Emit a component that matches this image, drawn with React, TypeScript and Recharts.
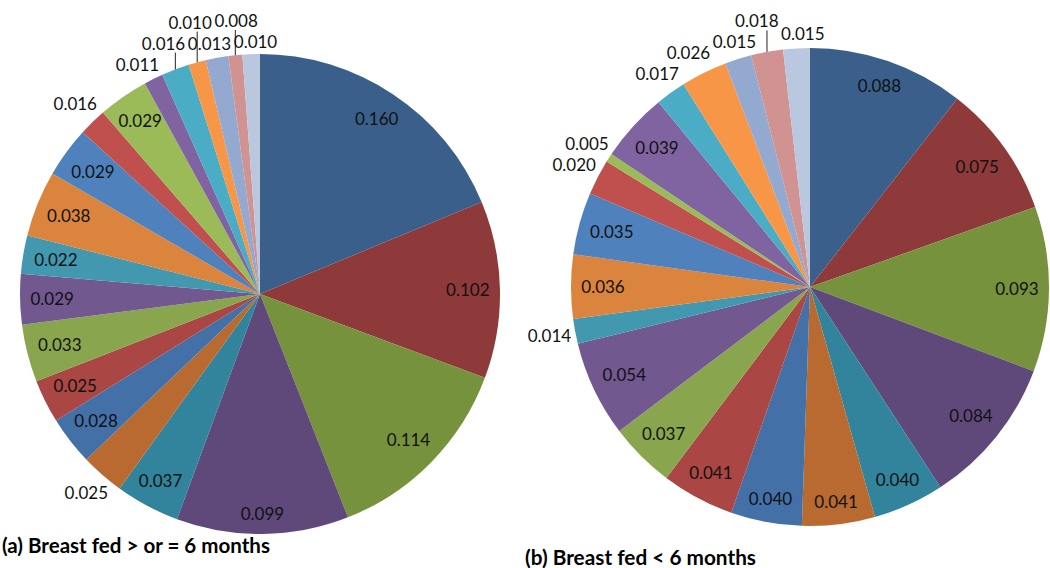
import React from "react";
import { PieChart, Pie, Cell } from "recharts";

const groups = [
  "G1", "G2", "G3", "G4", "G5", "G6", "G7", "G8", "G9", "G10", "G11",
  "G12", "G13", "G14", "G15", "G16", "G17", "G18", "G19", "G20", "G21",
];

// (a) breast fed >= 6 months
const valuesA = [
  0.160, 0.102, 0.114, 0.099, 0.037, 0.025, 0.028, 0.025, 0.033, 0.029, 0.022,
  0.038, 0.029, 0.016, 0.029, 0.011, 0.016, 0.010, 0.013, 0.008, 0.010,
];

// (b) breast fed < 6 months
const valuesB = [
  0.088, 0.075, 0.093, 0.084, 0.040, 0.041, 0.040, 0.041, 0.037, 0.054, 0.014,
  0.036, 0.035, 0.020, 0.005, 0.039, 0.017, 0.026, 0.015, 0.018, 0.015,
];

const titles = ["(a) Breast fed > or = 6 months", "(b) Breast fed < 6 months"];

const colors = [
  "#3a5f8b", "#8e3a3a", "#76923c", "#5f497a", "#31849b", "#b86a30",
  "#4470a8", "#aa4643", "#89a54e", "#71588f", "#4198af", "#db843d",
  "#4f81bd", "#c0504d", "#9bbb59", "#8064a2", "#4bacc6", "#f79646",
  "#93a9cf", "#d09392", "#b9c7df",
];

const dataA = groups.map((name, i) => ({ name, value: valuesA[i] }));
const dataB = groups.map((name, i) => ({ name, value: valuesB[i] }));

const LW = 40;
const LH = 16;

type Spot = { x: number; y: number; inside: boolean; ex: number; ey: number };

// excel-like "best fit": inside if the label box fits the wedge, else outside with leader
function layoutLabels(values: number[], cx: number, cy: number, r: number): Spot[] {
  const total = values.reduce((a, b) => a + b, 0);
  let acc = 0;
  const spots = values.map((v) => {
    const span = (v / total) * 2 * Math.PI;
    const t = (acc / total) * 2 * Math.PI + span / 2;
    acc += v;
    const ux = Math.sin(t);
    const uy = -Math.cos(t);
    const projU = (LW / 2) * Math.abs(ux) + (LH / 2) * Math.abs(uy);
    const projV = (LW / 2) * Math.abs(uy) + (LH / 2) * Math.abs(ux);
    const dIn = r - 12 - projU;
    const inside = span * dIn >= 2 * projV;
    const d = inside ? dIn : r + 5 + projU;
    return { x: cx + ux * d, y: cy + uy * d, inside, ex: cx + ux * r, ey: cy + uy * r };
  });

  const out = spots.filter((s) => !s.inside);
  const bw = LW + 6;
  const bh = LH + 5;
  for (let it = 0; it < 400; it++) {
    for (let i = 0; i < out.length; i++) {
      for (let j = i + 1; j < out.length; j++) {
        const a = out[i];
        const b = out[j];
        const ox = bw - Math.abs(a.x - b.x);
        const oy = bh - Math.abs(a.y - b.y);
        if (ox > 0 && oy > 0) {
          if (ox < oy) {
            const s = a.x < b.x ? -1 : 1;
            a.x += (s * ox) / 2;
            b.x -= (s * ox) / 2;
          } else {
            const s = a.y < b.y ? -1 : 1;
            a.y += (s * oy) / 2;
            b.y -= (s * oy) / 2;
          }
        }
      }
    }
    for (const s of out) {
      const px = Math.max(s.x - LW / 2, Math.min(cx, s.x + LW / 2));
      const py = Math.max(s.y - LH / 2, Math.min(cy, s.y + LH / 2));
      const dist = Math.hypot(px - cx, py - cy);
      if (dist < r + 4) {
        const dx = s.x - cx;
        const dy = s.y - cy;
        const len = Math.hypot(dx, dy) || 1;
        s.x += (dx / len) * (r + 4 - dist);
        s.y += (dy / len) * (r + 4 - dist);
      }
      if (s.y < LH / 2 - 3) s.y = LH / 2 - 3;
    }
  }
  return spots;
}

const PIE_A = { cx: 260, cy: 294, r: 240 };
const PIE_B = { cx: 810, cy: 287, r: 239 };

const spotsA = layoutLabels(valuesA, PIE_A.cx, PIE_A.cy, PIE_A.r);
const spotsB = layoutLabels(valuesB, PIE_B.cx, PIE_B.cy, PIE_B.r);

const makeLabel = (spots: Spot[]) => (props: any) => {
  const s = spots[props.index];
  if (!s) return null;
  const text = Number(props.value).toFixed(3);
  let line: React.ReactNode = null;
  if (!s.inside) {
    const left = s.x - LW / 2;
    const right = s.x + LW / 2;
    const top = s.y - LH / 2;
    const bottom = s.y + LH / 2;
    const gx = Math.max(left, Math.min(s.ex, right));
    const gy = Math.max(top, Math.min(s.ey, bottom));
    if (Math.hypot(s.ex - gx, s.ey - gy) > 12) {
      let pts: number[][];
      if (s.ex >= left + 4 && s.ex <= right - 4) {
        pts = [[s.ex, bottom + 1], [s.ex, s.ey]];
      } else {
        const sx = s.ex < s.x ? left - 2 : right + 2;
        const stub = s.ex < s.x ? sx - 5 : sx + 5;
        pts = [[sx, s.y], [stub, s.y], [s.ex, s.ey]];
      }
      line = (
        <polyline
          points={pts.map((p) => p.join(",")).join(" ")}
          fill="none"
          stroke="#222"
          strokeWidth={1}
        />
      );
    }
  }
  return (
    <g key={`lbl-${props.index}`}>
      {line}
      <text
        x={s.x}
        y={s.y + 6}
        textAnchor="middle"
        fontFamily="Lato, 'Open Sans', sans-serif"
        fontSize={17}
        fill="#111"
      >
        {text}
      </text>
    </g>
  );
};

const labelA = makeLabel(spotsA);
const labelB = makeLabel(spotsB);

export default function App() {
  return (
    <div style={{ position: "absolute", left: 0, top: 0, width: 1050, height: 568, background: "#fff" }}>
      <PieChart width={1050} height={568} margin={{ top: 0, right: 0, bottom: 0, left: 0 }}>
        <Pie
          data={dataA}
          dataKey="value"
          nameKey="name"
          cx={PIE_A.cx}
          cy={PIE_A.cy}
          outerRadius={PIE_A.r}
          startAngle={90}
          endAngle={-270}
          stroke="none"
          label={labelA}
          labelLine={false}
          isAnimationActive={false}
        >
          {dataA.map((d, i) => (
            <Cell key={d.name} fill={colors[i]} />
          ))}
        </Pie>
        <Pie
          data={dataB}
          dataKey="value"
          nameKey="name"
          cx={PIE_B.cx}
          cy={PIE_B.cy}
          outerRadius={PIE_B.r}
          startAngle={90}
          endAngle={-270}
          stroke="none"
          label={labelB}
          labelLine={false}
          isAnimationActive={false}
        >
          {dataB.map((d, i) => (
            <Cell key={d.name} fill={colors[i]} />
          ))}
        </Pie>
      </PieChart>
      <svg width={1050} height={568} style={{ position: "absolute", left: 0, top: 0, pointerEvents: "none" }}>
        <text x={2} y={553} fontFamily="Lato, sans-serif" fontWeight={700} fontSize={20} fill="#000"
          textLength={268} lengthAdjust="spacingAndGlyphs">
          {titles[0]}
        </text>
        <text x={525} y={565} fontFamily="Lato, sans-serif" fontWeight={700} fontSize={20} fill="#000"
          textLength={231} lengthAdjust="spacingAndGlyphs">
          {titles[1]}
        </text>
      </svg>
    </div>
  );
}
